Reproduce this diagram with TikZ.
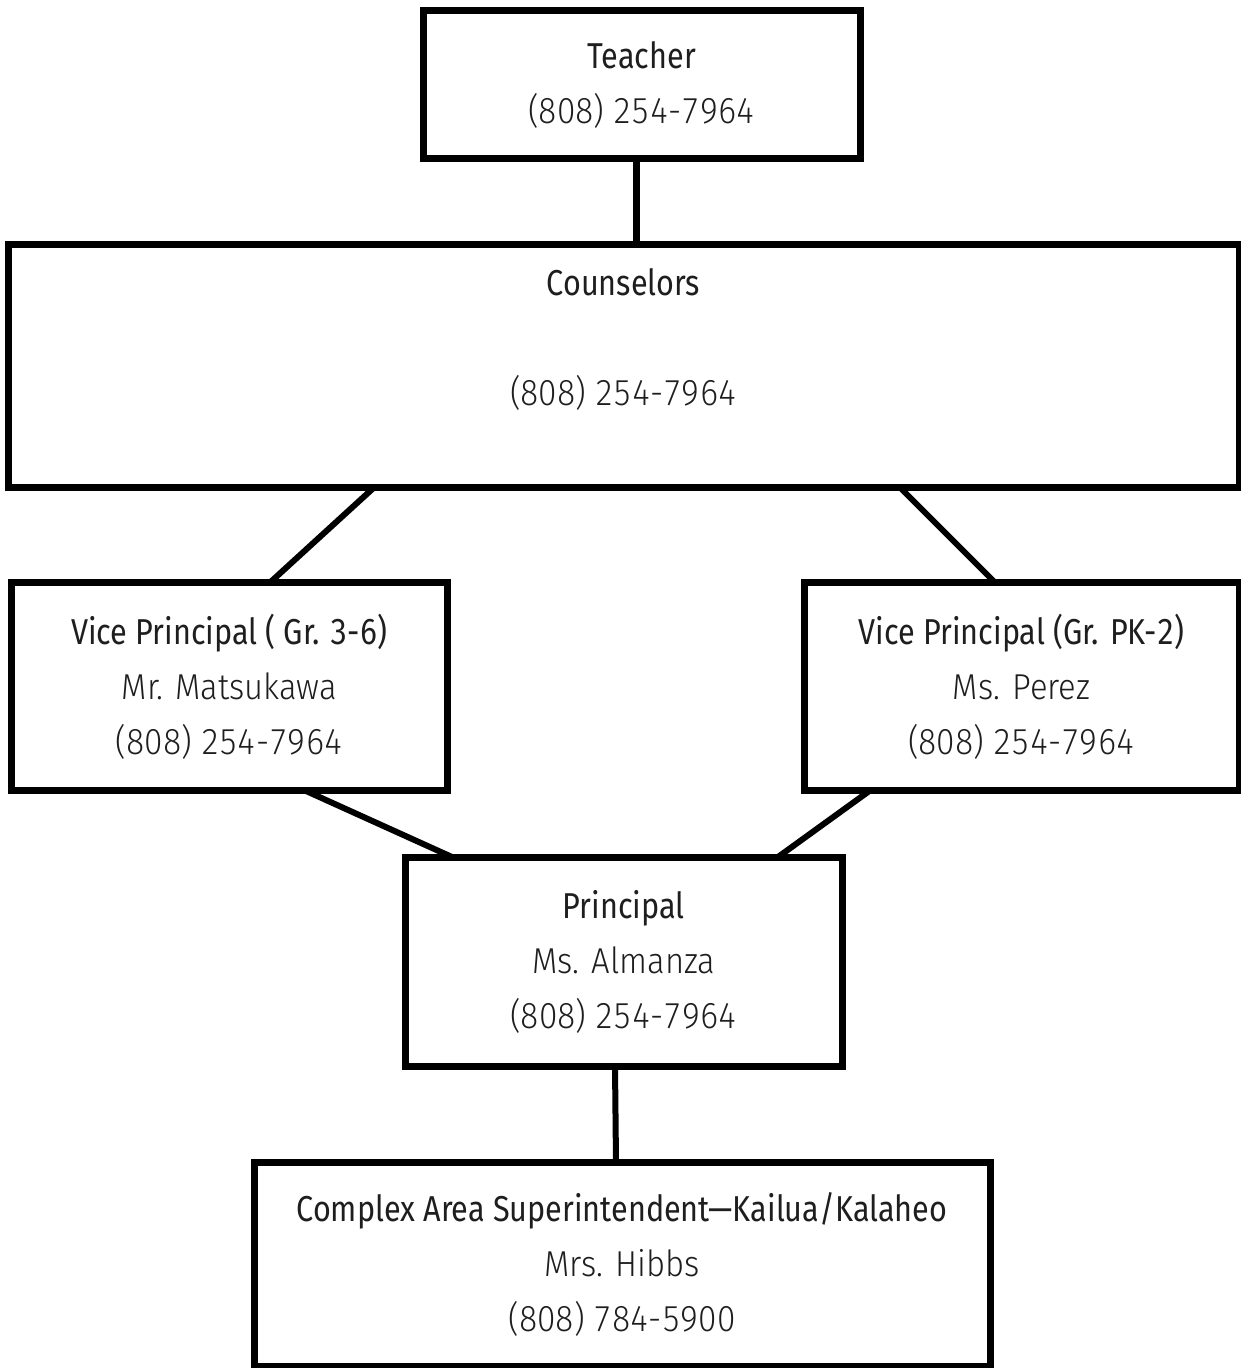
\documentclass[tikz,border=0pt]{standalone}
\usepackage{fontspec}
\setmainfont[FakeStretch=0.91, Numbers=Monospaced]{Fira Sans Light}
\newfontfamily\titlefont[FakeStretch=0.85, Numbers=Monospaced]{Fira Sans}
\usetikzlibrary{calc}
\definecolor{inkc}{HTML}{1E1E1E}
\tikzset{
  orgbox/.style={draw=black, line width=7pt, inner sep=0pt, outer sep=0pt,
    rectangle, fill=white, text=inkc, align=center,
    font=\fontsize{36}{55}\selectfont},
  link/.style={draw=black, line width=6pt},
}
\begin{document}
\begin{tikzpicture}[x=1pt,y=-1pt]
\useasboundingbox[fill=white] (0,0) rectangle (1241,1368);
\node[orgbox, minimum width=436.5pt, minimum height=148pt] (teacher) at (641.75,84.5)
  {{\titlefont Teacher}\\(808) 254-7964};
\node[orgbox, minimum width=1231pt, minimum height=243pt] (couns) at (623.5,366) {};
\node[text=inkc, align=center, inner sep=0pt, font=\fontsize{36}{55}\selectfont] (cText)
  at ([yshift=27pt]couns.center) {{\titlefont Counselors}\\[55pt](808) 254-7964};
\node[orgbox, minimum width=436.5pt, minimum height=208pt] (vpl) at (229.25,686.5)
  {{\titlefont Vice Principal ( Gr. 3-6)}\\Mr. Matsukawa\\(808) 254-7964};
\node[orgbox, minimum width=435pt, minimum height=208pt] (vpr) at (1021.5,686.5)
  {{\titlefont Vice Principal (Gr. PK-2)}\\Ms. Perez\\(808) 254-7964};
\node[orgbox, minimum width=437.5pt, minimum height=209pt] (princ) at (623.75,961.5)
  {{\titlefont Principal}\\Ms. Almanza\\(808) 254-7964};
\node[orgbox, minimum width=736pt, minimum height=203.5pt] (cas) at (622,1264.25)
  {{\titlefont Complex Area Superintendent—Kailua/Kalaheo}\\Mrs. Hibbs\\(808) 784-5900};
\draw[link, line width=7pt] ([xshift=-5pt]teacher.south) -- ([xshift=-5pt]teacher.south |- couns.north);
\draw[link] ([xshift=-249.5pt]couns.south) -- ([xshift=40.75pt]vpl.north);
\draw[link] ([xshift=276.5pt]couns.south) -- ([xshift=-26.5pt]vpr.north);
\draw[link] ([xshift=75.75pt]vpl.south) -- ([xshift=-171.75pt]princ.north);
\draw[link] ([xshift=-151.5pt]vpr.south) -- ([xshift=154.25pt]princ.north);
\draw[link] ([xshift=-8.75pt]princ.south) -- ([xshift=-6pt]cas.north);
\end{tikzpicture}
\end{document}
